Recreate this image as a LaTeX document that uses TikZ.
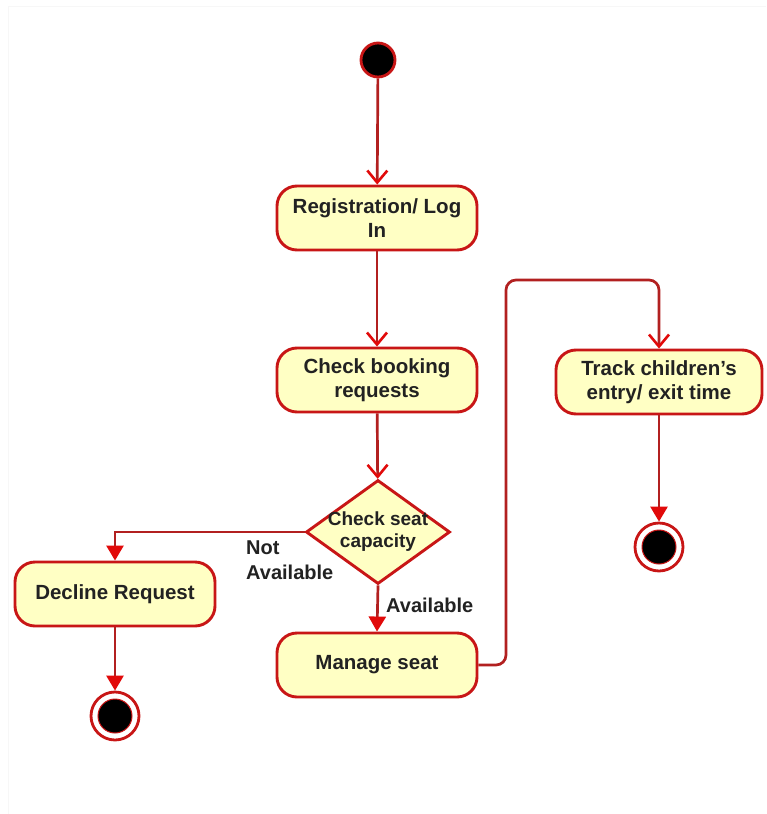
\documentclass[tikz,border=0pt]{standalone}
\usepackage{fontspec}
\setmainfont{Liberation Sans}
\usetikzlibrary{arrows.meta, shapes.geometric}
\definecolor{umlred}{RGB}{200,22,22}
\definecolor{umldark}{RGB}{178,32,32}
\definecolor{umltip}{RGB}{225,10,10}
\definecolor{umlfill}{RGB}{255,255,196}
\definecolor{umltext}{RGB}{34,34,34}

\tikzset{
  activity/.style={draw=umlred, fill=umlfill, line width=2.9pt, rounded corners=20pt,
    minimum width=200pt, minimum height=64pt, align=center, text=umltext, inner sep=2pt,
    font=\fontsize{20.5}{24}\selectfont\bfseries},
  decision/.style={diamond, draw=umlred, fill=umlfill, line width=2.9pt,
    minimum width=144pt, minimum height=104pt, inner sep=0pt},
  decisiontext/.style={align=center, text=umltext, inner sep=0pt,
    font=\fontsize{19}{22}\selectfont\bfseries},
  initial/.style={circle, draw=umlred, fill=black, line width=2.8pt, minimum size=34pt, inner sep=0pt},
  final/.style={circle, draw=umlred, fill=white, line width=2.8pt, minimum size=48pt, inner sep=0pt,
    path picture={\fill[black] (path picture bounding box.center) circle (17pt);
      \draw[umlred, line width=1pt] (path picture bounding box.center) circle (17pt);}},
  guard/.style={align=left, text=umltext, inner sep=0pt,
    font=\fontsize{20}{25}\selectfont\bfseries},
  flow/.style={draw=umldark, line width=2.7pt},
  openflow/.style={flow, -{Straight Barb[length=12pt, width=20pt, line width=2.6pt, color=umltip]}},
  solidflow/.style={flow, -{Triangle[length=15pt, width=17pt, color=umltip]}},
}

\begin{document}
\begin{tikzpicture}[x=1pt, y=-1pt]

\useasboundingbox (0,0) rectangle (766,814);
\fill[white] (0,0) rectangle (766,814);
% marco tenue
\draw[black!3, line width=1pt] (8,814) -- (8,6) -- (766,6);

% === Nodos ===
\node[initial] (start) at (378,60) {};
\node[activity] (login) at (377,218) {Registration/ Log\\In};
\node[activity] (booking) at (377,380) {Check booking\\requests};
\node[decision] (seat) at (378,532) {};
\node[decisiontext] (seattext) at (seat.center) {Check seat\\capacity};
\node[activity] (decline) at (115,594) {Decline Request};
\node[activity] (manage) at (377,665) {Manage seat};
\node[activity, minimum width=206pt] (track) at (659,382) {Track children's\\entry/ exit time};
\node[final] (end1) at (115,716) {};
\node[final] (end2) at (659,547) {};
\coordinate (bend) at (506,280);

% === Etiquetas de guardas ===
\node[guard, anchor=north west] (notavail) at (246,541) {Not\\Available};
\node[guard, anchor=west] (avail) at (386,605) {Available};

% === Flujos ===
\draw[openflow] (start) -- (login);
\draw[openflow] (login) -- (booking);
\draw[openflow] (booking) -- (seat);
\draw[solidflow] (seat.west) -| (decline.north);
\draw[solidflow] (seat.south) -- (manage.north);
\draw[solidflow] (decline) -- (end1);
\draw[openflow, rounded corners=10pt] (manage.east) -| (bend) -| (track.north);
\draw[solidflow] (track) -- (end2);

\end{tikzpicture}
\end{document}
